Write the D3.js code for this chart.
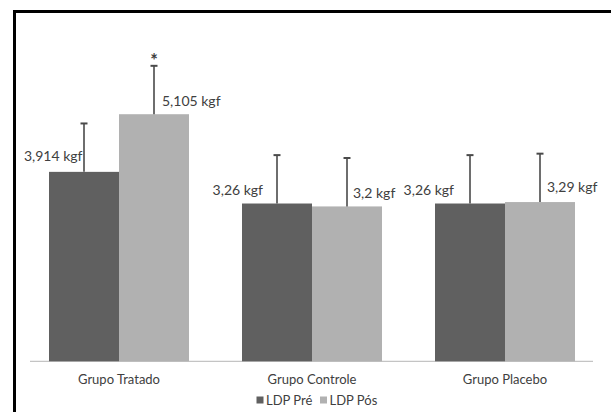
<!DOCTYPE html>
<html>
<head>
<meta charset="utf-8">
<script src="https://cdn.jsdelivr.net/npm/d3@7"></script>
<style>
  html, body { margin: 0; padding: 0; background: #fff; overflow: hidden; }
  svg { display: block; }
  text { font-family: Lato, "Open Sans", "DejaVu Sans", sans-serif; fill: #404040; }
</style>
</head>
<body>
<svg id="chart" width="611" height="412"></svg>
<script>
// ---- data ----
const categories = ["Grupo Tratado", "Grupo Controle", "Grupo Placebo"];
const seriesNames = ["LDP Pré", "LDP Pós"];
const preValues = [3.914, 3.26, 3.26];
const posValues = [5.105, 3.2, 3.29];
const preErrors = [1.0, 1.0, 1.0];
const posErrors = [1.0, 1.0, 1.0];
const preLabels = ["3,914 kgf", "3,26 kgf", "3,26 kgf"];
const posLabels = ["5,105 kgf", "3,2 kgf", "3,29 kgf"];
const significance = ["*", "", ""];

// ---- layout / style ----
const colors = ["#606060", "#b1b1b1"];
const baselineY = 361.3;
const pxPerUnit = 48.4;
const yMax = 7;
// label offsets (dx from error bar, dy above bar top) per series/category
const preLabelLayout = [{dx: -1.5, dy: -15.5}, {dx: -14, dy: -13}, {dx: -16, dy: -13}];
const posLabelLayout = [{dx: 8, dy: -13.5}, {dx: 6, dy: -13}, {dx: 7, dy: -15}];

const svg = d3.select("#chart");

// frame (only left and top edges are inside the picture)
svg.append("path")
  .attr("d", "M14.5,412 V11.5 H611")
  .attr("fill", "none").attr("stroke", "#000").attr("stroke-width", 3);

const x0 = d3.scaleBand().domain(categories).range([22.5, 601.5]).paddingInner(0).paddingOuter(0);
const x1 = d3.scaleBand().domain(seriesNames).range([0, 140]);
const groupInset = (x0.bandwidth() - 140) / 2;
const y = d3.scaleLinear().domain([0, yMax]).range([baselineY, baselineY - yMax * pxPerUnit]);

const rows = categories.map((c, i) => ({
  cat: c, i,
  vals: [
    {s: seriesNames[0], v: preValues[i], e: preErrors[i], label: preLabels[i], lay: preLabelLayout[i], side: "end"},
    {s: seriesNames[1], v: posValues[i], e: posErrors[i], label: posLabels[i], lay: posLabelLayout[i], side: "start"}
  ]
}));

// baseline axis
svg.append("line")
  .attr("x1", 30).attr("x2", 593)
  .attr("y1", y(0)).attr("y2", y(0))
  .attr("stroke", "#c4c4c4").attr("stroke-width", 1.2);

const g = svg.selectAll("g.grp").data(rows).join("g")
  .attr("class", "grp")
  .attr("transform", d => `translate(${x0(d.cat) + groupInset},0)`);

g.selectAll("rect.bar").data(d => d.vals).join("rect")
  .attr("class", "bar")
  .attr("x", d => x1(d.s))
  .attr("width", x1.bandwidth())
  .attr("y", d => y(d.v))
  .attr("height", d => y(0) - y(d.v))
  .attr("fill", (d, j) => colors[j]);

// error bars
const eb = g.selectAll("g.err").data(d => d.vals).join("g").attr("class", "err");
eb.append("line")
  .attr("x1", d => x1(d.s) + x1.bandwidth() / 2)
  .attr("x2", d => x1(d.s) + x1.bandwidth() / 2)
  .attr("y1", d => y(d.v))
  .attr("y2", d => y(d.v + d.e))
  .attr("stroke", "#4a4a4a").attr("stroke-width", 1.6);
eb.append("line")
  .attr("x1", d => x1(d.s) + x1.bandwidth() / 2 - 3.5)
  .attr("x2", d => x1(d.s) + x1.bandwidth() / 2 + 3.5)
  .attr("y1", d => y(d.v + d.e))
  .attr("y2", d => y(d.v + d.e))
  .attr("stroke", "#4a4a4a").attr("stroke-width", 2);

// value labels
g.selectAll("text.val").data(d => d.vals).join("text")
  .attr("class", "val")
  .attr("x", d => x1(d.s) + x1.bandwidth() / 2 + d.lay.dx)
  .attr("y", d => y(d.v) + d.lay.dy)
  .attr("dy", "0.35em")
  .attr("text-anchor", d => d.side)
  .style("font-size", "14px")
  .text(d => d.label);

// significance markers
g.append("text")
  .attr("x", d => x1(seriesNames[1]) + x1.bandwidth() / 2)
  .attr("y", d => y(d.vals[1].v + d.vals[1].e) + 1)
  .attr("text-anchor", "middle")
  .style("font-size", "18px")
  .style("font-weight", "bold")
  .text((d, i) => significance[i]);

// category labels
svg.selectAll("text.cat").data(categories).join("text")
  .attr("class", "cat")
  .attr("x", d => x0(d) + x0.bandwidth() / 2)
  .attr("y", 379)
  .attr("dy", "0.35em")
  .attr("text-anchor", "middle")
  .style("font-size", "13px")
  .text(d => d);

// legend
const legendItems = [
  {name: seriesNames[0], color: colors[0], x: 256.5},
  {name: seriesNames[1], color: colors[1], x: 320}
];
const lg = svg.selectAll("g.leg").data(legendItems).join("g")
  .attr("class", "leg")
  .attr("transform", d => `translate(${d.x},400)`);
lg.append("rect").attr("x", 0).attr("y", -3.5).attr("width", 7).attr("height", 7).attr("fill", d => d.color);
lg.append("text").attr("x", 9.5).attr("y", 0).attr("dy", "0.35em")
  .style("font-size", "13px")
  .text(d => d.name);
</script>
</body>
</html>
